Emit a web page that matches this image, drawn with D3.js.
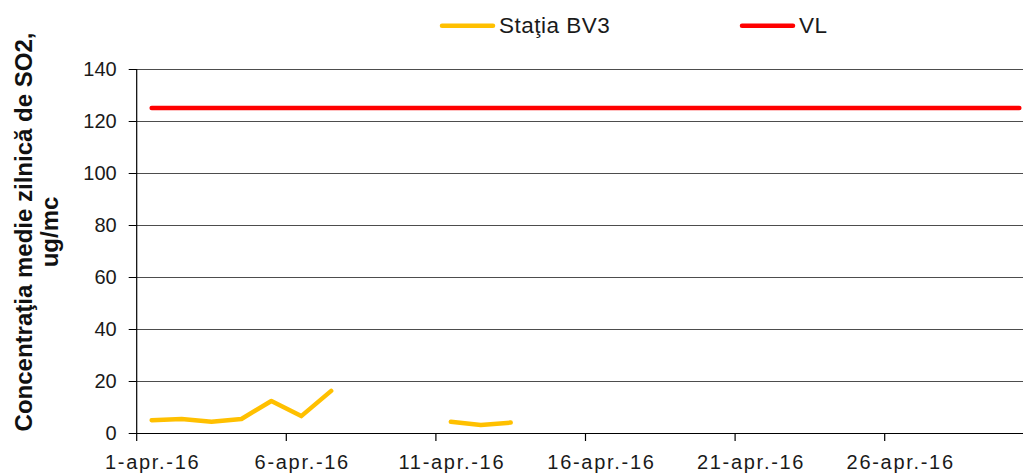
<!DOCTYPE html>
<html>
<head>
<meta charset="utf-8">
<script src="https://cdn.jsdelivr.net/npm/d3@7"></script>
<style>
  html, body { margin: 0; padding: 0; background: #fff; }
  svg { display: block; font-family: "Liberation Sans", Arial, sans-serif; }
</style>
</head>
<body>
<svg id="chart" width="1023" height="474"></svg>
<script>
// ---- data ----
const days = [1,2,3,4,5,6,7,8,9,10,11,12,13,14,15,16,17,18,19,20,21,22,23,24,25,26,27,28,29,30];
const tickDays = [1, 6, 11, 16, 21, 26];
const tickLabels = ["1-apr.-16", "6-apr.-16", "11-apr.-16", "16-apr.-16", "21-apr.-16", "26-apr.-16"];
const bv3 = [4.9, 5.4, 4.3, 5.4, 12.3, 6.5, 16.2, null, null, null, 4.3, 3.1, 4.0,
             null, null, null, null, null, null, null, null, null, null, null, null, null, null, null, null, null];
const vl = [125,125,125,125,125,125,125,125,125,125,125,125,125,125,125,125,125,125,125,125,125,125,125,125,125,125,125,125,125,125];
const yTicks = [0, 20, 40, 60, 80, 100, 120, 140];
const seriesNames = ["Staţia BV3", "VL"];
const seriesColors = ["#FFC000", "#FF0000"];
const yTitle = ["Concentraţia medie zilnică de SO2,", "ug/mc"];

(function () {
// ---- layout ----
const svg = d3.select("#chart");
const plotLeft = 136.7, plotTop = 69, plotBottom = 433;
const dayW = 29.92;
const x = d3.scaleBand().domain(days).range([plotLeft, plotLeft + dayW * days.length]).paddingInner(0).paddingOuter(0);
const y = d3.scaleLinear().domain([0, 140]).range([plotBottom, plotTop]);
const cx = d => x(d) + x.bandwidth() / 2;

// gridlines
svg.append("g").selectAll("line").data(yTicks.filter(t => t > 0)).join("line")
  .attr("x1", plotLeft).attr("x2", 1023)
  .attr("y1", d => Math.round(y(d)) + 0.5).attr("y2", d => Math.round(y(d)) + 0.5)
  .attr("stroke", "#4d4d4d").attr("stroke-width", 1);

// y axis
const yAxis = d3.axisLeft(y).tickValues(yTicks).tickSize(8).tickPadding(12);
const gy = svg.append("g").attr("transform", `translate(${plotLeft},0)`).call(yAxis);
gy.select(".domain").remove();
gy.selectAll(".tick line").attr("stroke", "#000");
gy.selectAll(".tick text").attr("font-size", 20).attr("fill", "#1a1a1a")
  .attr("font-family", "Liberation Sans, Arial, sans-serif");
svg.append("line").attr("x1", plotLeft).attr("x2", plotLeft).attr("y1", plotTop).attr("y2", plotBottom)
  .attr("stroke", "#000").attr("stroke-width", 1.2);

// x axis line
svg.append("line").attr("x1", plotLeft).attr("x2", 1023).attr("y1", plotBottom + 0.5).attr("y2", plotBottom + 0.5)
  .attr("stroke", "#000").attr("stroke-width", 1.2);
// x ticks at category boundaries
svg.append("g").selectAll("line").data(tickDays).join("line")
  .attr("x1", d => x(d)).attr("x2", d => x(d))
  .attr("y1", plotBottom).attr("y2", plotBottom + 8)
  .attr("stroke", "#000").attr("stroke-width", 1.2);
// x labels at category centers
svg.append("g").selectAll("text").data(tickDays).join("text")
  .attr("x", d => cx(d) + 1).attr("y", 469)
  .attr("text-anchor", "middle")
  .attr("font-size", 20).attr("letter-spacing", 1.7).attr("fill", "#1a1a1a")
  .text((d, i) => tickLabels[i]);

// y title
const title = svg.append("text").attr("transform", "rotate(-90)")
  .attr("font-weight", "bold").attr("font-size", 24).attr("text-anchor", "middle").attr("fill", "#111");
title.append("tspan").attr("x", -232).attr("y", 32).text(yTitle[0]);
title.append("tspan").attr("x", -232).attr("y", 58).text(yTitle[1]);

// lines
const lineGen = d3.line().defined(d => d.v != null).x(d => cx(d.day)).y(d => y(d.v));
const seriesData = [bv3, vl].map(arr => days.map((day, i) => ({ day, v: arr[i] })));
svg.append("g").selectAll("path").data(seriesData).join("path")
  .attr("d", d => lineGen(d))
  .attr("fill", "none")
  .attr("stroke", (d, i) => seriesColors[i])
  .attr("stroke-width", 4.5)
  .attr("stroke-linecap", "round").attr("stroke-linejoin", "round");

// legend
const legendX = [440, 740];
const lg = svg.append("g").selectAll("g").data(seriesNames).join("g")
  .attr("transform", (d, i) => `translate(${legendX[i]},0)`);
lg.append("line").attr("x1", 2).attr("x2", 53).attr("y1", 25.7).attr("y2", 25.7)
  .attr("stroke", (d, i) => seriesColors[i]).attr("stroke-width", 4.5).attr("stroke-linecap", "round");
lg.append("text").attr("x", 59).attr("y", 32.5).attr("font-size", 22.5).attr("letter-spacing", 0.5)
  .attr("fill", "#1a1a1a").text(d => d);
})();
</script>
</body>
</html>
